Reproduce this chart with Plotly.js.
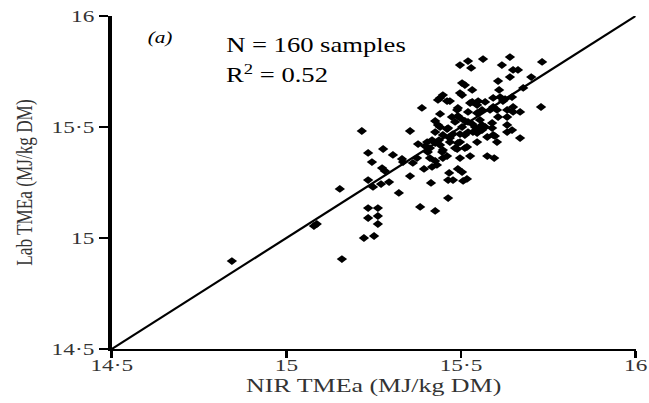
<!DOCTYPE html>
<html>
<head>
<meta charset="utf-8">
<script src="https://cdn.plot.ly/plotly-3.0.1.min.js"></script>
<style>
html,body{margin:0;padding:0;background:#fff;overflow:hidden;}
#wrap{width:649px;height:403px;overflow:hidden;}
#chart{width:488px;height:403px;transform:scaleX(1.3299);transform-origin:0 0;}
</style>
</head>
<body>
<div id="wrap"><div id="chart"></div></div>
<script>
// NIR TMEa (x) vs Lab TMEa (y), MJ/kg DM
const nirX = [14.844,15.079,15.087,15.153,15.159,15.216,15.234,15.222,15.251,15.234,15.262,15.234,15.262,15.262,15.277,15.245,15.274,15.282,15.234,15.248,
15.271,15.294,15.305,15.331,15.334,15.322,15.354,15.354,15.362,15.383,15.426,15.463,15.414,15.463,15.477,15.506,15.517,15.466,15.491,15.503,
15.394,15.417,15.431,15.426,15.374,15.411,15.448,15.497,15.526,15.575,15.595,15.448,15.483,15.511,15.405,15.377,15.403,15.411,15.426,15.440,
15.468,15.497,15.546,15.575,15.603,15.632,15.669,15.546,15.534,15.554,15.592,15.646,15.426,15.448,15.477,15.511,15.597,15.434,15.463,15.483,
15.503,15.520,15.540,15.560,15.589,15.560,15.632,15.569,15.589,15.554,15.632,15.606,15.497,15.440,15.489,15.520,15.546,15.560,15.583,15.603,
15.632,15.649,15.649,15.669,15.729,15.592,15.546,15.388,15.440,15.460,15.468,15.503,15.532,15.549,15.569,15.592,15.612,15.626,15.646,15.448,
15.434,15.497,15.503,15.511,15.606,15.609,15.532,15.678,15.640,15.701,15.649,15.663,15.732,15.640,15.617,15.563,15.520,15.497,15.529,15.491,
15.474,15.491,15.426,15.440,15.460,15.511,15.532,15.520,15.497,15.468,15.437,15.417,15.491,15.397,15.446,15.460,15.489,15.517,15.526,15.620];
const labY = [14.896,15.054,15.063,15.221,14.905,15.482,15.383,15.000,15.009,15.135,15.135,15.090,15.099,15.063,15.401,15.342,15.315,15.302,15.261,15.230,
15.243,15.252,15.374,15.356,15.342,15.203,15.482,15.279,15.338,15.140,15.122,15.180,15.248,15.261,15.261,15.257,15.266,15.293,15.311,15.297,
15.311,15.320,15.329,15.347,15.360,15.360,15.360,15.360,15.369,15.369,15.360,15.396,15.405,15.405,15.387,15.423,15.432,15.405,15.428,15.419,
15.432,15.432,15.432,15.455,15.432,15.477,15.450,15.473,15.477,15.486,15.464,15.486,15.477,15.464,15.468,15.464,15.459,15.509,15.495,15.523,
15.500,15.523,15.500,15.509,15.495,15.486,15.509,15.500,15.518,15.532,15.545,15.545,15.541,15.559,15.577,15.568,15.563,15.577,15.577,15.577,
15.577,15.590,15.568,15.568,15.590,15.590,15.599,15.586,15.631,15.617,15.617,15.644,15.613,15.617,15.613,15.631,15.635,15.626,15.635,15.644,
15.622,15.653,15.698,15.689,15.707,15.667,15.667,15.676,15.725,15.725,15.757,15.757,15.793,15.815,15.779,15.806,15.797,15.779,15.766,15.586,
15.545,15.550,15.527,15.500,15.491,15.527,15.514,15.477,15.468,15.450,15.441,15.441,15.428,15.414,15.387,15.369,15.401,15.410,15.608,15.617];
// 1:1 line
const lineX = [14.5, 16];
const lineY = [14.5, 16];
const tickVals = [14.5, 15, 15.5, 16];
const tickText = ['14·5', '15', '15·5', '16'];
const panelLabel = '(a)';
const statN = 'N = 160 samples';
const statR = 'R<sup>2</sup> = 0.52';

const serif = 'Liberation Serif, Times New Roman, serif';
const traces = [
  {x: lineX, y: lineY, mode: 'lines', type: 'scatter', line: {color: '#000', width: 2}, hoverinfo: 'skip', showlegend: false, cliponaxis: false},
  {x: nirX, y: labY, mode: 'markers', type: 'scatter', marker: {symbol: 'diamond', size: 6, color: '#000'}, showlegend: false}
];
const axisCommon = {
  range: [14.5, 16], tickvals: tickVals, ticktext: tickText, showgrid: false, zeroline: false,
  showline: true, linecolor: '#000', ticks: 'outside', ticklen: 7, tickcolor: '#000',
  tickfont: {family: serif, size: 17.5, color: '#333'}, fixedrange: true
};
const layout = {
  width: 488, height: 403,
  margin: {l: 84, r: 10, t: 16, b: 54},
  paper_bgcolor: '#fff', plot_bgcolor: '#fff',
  xaxis: Object.assign({}, axisCommon, {linewidth: 2, tickwidth: 2.2, ticklabelstandoff: -8,
    title: {text: 'NIR TMEa (MJ/kg DM)', font: {family: serif, size: 19.5, color: '#333'}, standoff: 2}}),
  yaxis: Object.assign({}, axisCommon, {linewidth: 2.6, tickwidth: 2,
    title: {text: 'Lab TMEa (MJ/kg DM)', font: {family: serif, size: 17.2, color: '#333'}, standoff: 10}}),
  annotations: [
    {x: 14.64, y: 15.9, xref: 'x', yref: 'y', text: '<i>' + panelLabel + '</i>', showarrow: false, font: {family: serif, size: 16, color: '#000'}},
    {x: 14.82, y: 15.865, xref: 'x', yref: 'y', xanchor: 'left', text: statN, showarrow: false, font: {family: serif, size: 20, color: '#000'}},
    {x: 14.82, y: 15.74, xref: 'x', yref: 'y', xanchor: 'left', text: statR, showarrow: false, font: {family: serif, size: 20, color: '#000'}}
  ]
};
Plotly.newPlot('chart', traces, layout, {displayModeBar: false, staticPlot: true});
</script>
</body>
</html>
